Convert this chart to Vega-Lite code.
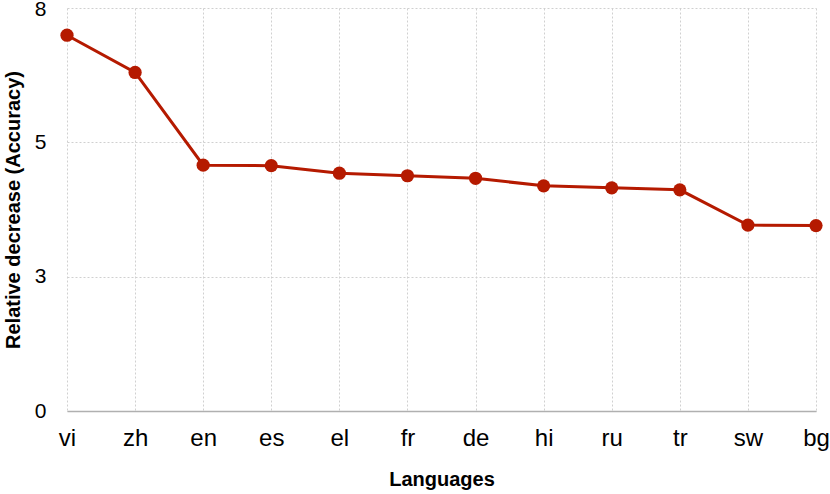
{
  "$schema": "https://vega.github.io/schema/vega-lite/v6.json",
  "width": 749,
  "height": 403,
  "autosize": {"type": "none"},
  "padding": {"left": 67, "top": 8, "right": 14, "bottom": 83},
  "background": "white",
  "config": {
    "view": {"stroke": null},
    "font": "Liberation Sans"
  },
  "data": {
    "values": [
      {"lang": "vi", "value": 7.46},
      {"lang": "zh", "value": 6.72},
      {"lang": "en", "value": 4.88},
      {"lang": "es", "value": 4.87},
      {"lang": "el", "value": 4.72},
      {"lang": "fr", "value": 4.67},
      {"lang": "de", "value": 4.62},
      {"lang": "hi", "value": 4.47},
      {"lang": "ru", "value": 4.43},
      {"lang": "tr", "value": 4.39},
      {"lang": "sw", "value": 3.69},
      {"lang": "bg", "value": 3.68}
    ]
  },
  "encoding": {
    "x": {
      "field": "lang", "type": "ordinal", "sort": null,
      "scale": {"type": "point", "padding": 0},
      "axis": {
        "title": "Languages", "titleFontSize": 20, "titleFontWeight": "bold", "titleColor": "black", "titlePadding": 19,
        "labelAngle": 0, "labelFontSize": 24, "labelColor": "black", "labelPadding": 15,
        "ticks": false, "domainColor": "#b0b0b0", "domainWidth": 1.5,
        "grid": true, "gridColor": "#d0d0d0", "gridDash": [2, 2], "gridWidth": 1
      }
    },
    "y": {
      "field": "value", "type": "quantitative",
      "scale": {"domain": [0, 8], "nice": false},
      "axis": {
        "title": "Relative decrease (Accuracy)", "titleFontSize": 20, "titleFontWeight": "bold", "titleColor": "black", "titlePadding": 11,
        "values": [0, 2.6667, 5.3333, 8], "format": ".0f",
        "labelFontSize": 21, "labelColor": "black", "labelPadding": 21,
        "labelOffset": {"condition": {"test": "datum.value == 8", "value": 1}, "value": 0},
        "ticks": false, "domain": false,
        "grid": true, "gridColor": "#d0d0d0", "gridDash": [2, 2], "gridWidth": 1
      }
    }
  },
  "layer": [
    {"mark": {"type": "line", "color": "#b51a00", "strokeWidth": 3}},
    {"mark": {"type": "point", "filled": true, "color": "#b51a00", "size": 175, "opacity": 1}}
  ]
}
